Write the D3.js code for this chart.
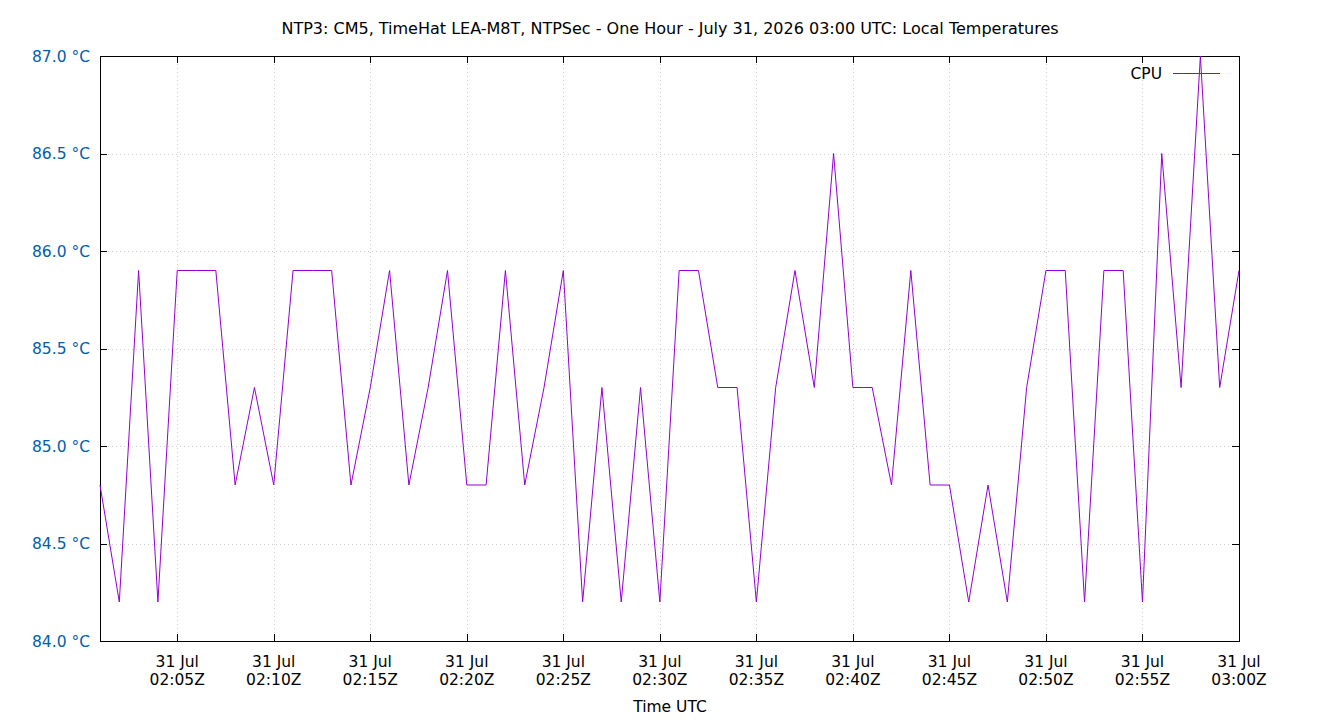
<!DOCTYPE html>
<html><head><meta charset="utf-8">
<script src="https://cdn.jsdelivr.net/npm/d3@7"></script>
<style>body{margin:0;background:#fff;} text{font-family:"DejaVu Sans",sans-serif;}</style>
</head><body><svg id="c" width="1340" height="720"></svg>
<script>
const title = "NTP3: CM5, TimeHat LEA-M8T, NTPSec - One Hour - July 31, 2026 03:00 UTC: Local Temperatures";
const startTime = "2026-07-31T02:01:00Z";
const endTime = "2026-07-31T03:00:00Z";
const cpuTemps = [84.8,84.2,85.9,84.2,85.9,85.9,85.9,84.8,85.3,84.8,
  85.9,85.9,85.9,84.8,85.3,85.9,84.8,85.3,85.9,84.8,
  84.8,85.9,84.8,85.3,85.9,84.2,85.3,84.2,85.3,84.2,
  85.9,85.9,85.3,85.3,84.2,85.3,85.9,85.3,86.5,85.3,
  85.3,84.8,85.9,84.8,84.8,84.2,84.8,84.2,85.3,85.9,
  85.9,84.2,85.9,85.9,84.2,86.5,85.3,87.0,85.3,85.9];
const yTicks = [84.0,84.5,85.0,85.5,86.0,86.5,87.0];
const xTickMinutes = [5,10,15,20,25,30,35,40,45,50,55,60];
const seriesName = "CPU";

const svg = d3.select("#c");
const L=100,R=1239,T=56,B=641;
const FS="15.5px";
const t0 = new Date(startTime);
const times = cpuTemps.map((v,i)=>new Date(t0.getTime()+i*60000));
const x = d3.scaleUtc().domain([t0,new Date(endTime)]).range([L,R]);
const y = d3.scaleLinear().domain([84,87]).range([B,T]);
const xTicks = xTickMinutes.map(m=>new Date(Date.UTC(2026,6,31,2,0)+m*60000));

// grid
const g = svg.append("g");
g.selectAll(".gx").data(xTicks).enter().append("line")
 .attr("x1",d=>Math.round(x(d))+0.5).attr("x2",d=>Math.round(x(d))+0.5).attr("y1",T).attr("y2",B)
 .attr("stroke","#d0d0d0").attr("stroke-dasharray","1,3");
g.selectAll(".gy").data(yTicks.slice(1,-1)).enter().append("line")
 .attr("y1",d=>Math.round(y(d))+0.5).attr("y2",d=>Math.round(y(d))+0.5).attr("x1",L).attr("x2",R)
 .attr("stroke","#d0d0d0").attr("stroke-dasharray","1,3");

// ticks (inward, mirrored)
const tk=7;
xTicks.forEach(d=>{const xx=Math.round(x(d))+0.5;
 g.append("line").attr("x1",xx).attr("x2",xx).attr("y1",B).attr("y2",B-tk).attr("stroke","#000");
 g.append("line").attr("x1",xx).attr("x2",xx).attr("y1",T).attr("y2",T+tk).attr("stroke","#000");});
yTicks.forEach(d=>{const yy=Math.round(y(d))+0.5;
 g.append("line").attr("y1",yy).attr("y2",yy).attr("x1",L).attr("x2",L+tk).attr("stroke","#000");
 g.append("line").attr("y1",yy).attr("y2",yy).attr("x1",R).attr("x2",R-tk).attr("stroke","#000");});

// frame
svg.append("rect").attr("x",L+0.5).attr("y",T+0.5).attr("width",R-L).attr("height",B-T)
 .attr("fill","none").attr("stroke","#000");

// y labels
svg.selectAll(".yl").data(yTicks).enter().append("text")
 .attr("x",L-10).attr("y",d=>y(d)+5.5).attr("text-anchor","end")
 .attr("fill","#0060ad").attr("font-size",FS).text(d=>d.toFixed(1)+" °C");

// x labels
const fmt = d3.utcFormat("%H:%MZ");
xTicks.forEach(d=>{
 const t=svg.append("text").attr("x",x(d)).attr("text-anchor","middle").attr("font-size",FS).attr("fill","#000");
 t.append("tspan").attr("x",x(d)).attr("y",667).text(d3.utcFormat("%-d %b")(d));
 t.append("tspan").attr("x",x(d)).attr("y",685).text(fmt(d));
});

svg.append("text").attr("x",670).attr("y",712).attr("text-anchor","middle").attr("font-size",FS).text("Time UTC");
svg.append("text").attr("x",670).attr("y",34).attr("text-anchor","middle").attr("font-size","16px").text(title);

// line
const line = d3.line().x((d,i)=>x(times[i])).y(d=>y(d));
svg.append("path").datum(cpuTemps).attr("d",line).attr("fill","none").attr("stroke","#9400d3").attr("stroke-width",1);

// legend
svg.append("text").attr("x",1162).attr("y",79).attr("text-anchor","end").attr("font-size",FS).text(seriesName);
svg.append("line").attr("x1",1173).attr("x2",1220).attr("y1",73.5).attr("y2",73.5).attr("stroke","#9400d3");
</script></body></html>
